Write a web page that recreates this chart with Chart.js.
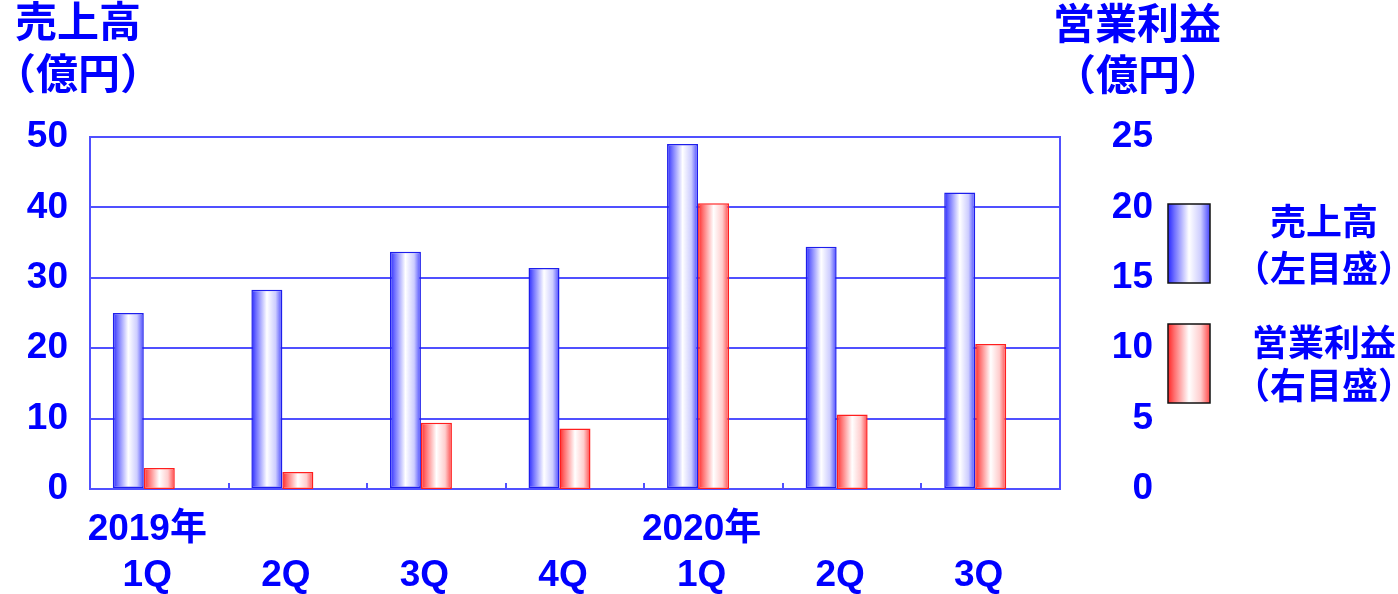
<!DOCTYPE html>
<html lang="ja">
<head>
<meta charset="utf-8">
<title>売上高・営業利益 四半期推移</title>
<script src="https://cdn.jsdelivr.net/npm/chart.js@4.4.1/dist/chart.umd.min.js"></script>
<style>
  html, body { margin: 0; padding: 0; background: #ffffff; }
  #wrap { position: relative; width: 1398px; height: 594px; }
</style>
</head>
<body>
<div id="wrap"><canvas id="chart"></canvas></div>
<script>
// Quarterly figures (億円)
const yearLabels    = ['2019年', '', '', '', '2020年', '', ''];
const quarterLabels = ['1Q', '2Q', '3Q', '4Q', '1Q', '2Q', '3Q'];
const salesValues   = [25.0, 28.3, 33.7, 31.4, 49.0, 34.4, 42.1];   // 売上高 (left axis)
const profitValues  = [1.5, 1.2, 4.7, 4.3, 20.3, 5.3, 10.3];        // 営業利益 (right axis)
const leftTicks     = [0, 10, 20, 30, 40, 50];
const rightTicks    = [0, 5, 10, 15, 20, 25];

const FONT = "'Liberation Sans', 'Noto Sans CJK JP', sans-serif";
const TEXT_BLUE = '#0000ff';
const FRAME_BLUE = 'rgb(80,80,255)';

const BLUE_STOPS = [[0, 'rgb(40,40,255)'], [0.15, 'rgb(110,110,255)'], [0.5, '#ffffff'], [0.78, 'rgb(205,205,255)'], [1, 'rgb(70,70,255)']];
const RED_STOPS  = [[0, 'rgb(255,40,40)'], [0.15, 'rgb(255,110,110)'], [0.5, '#ffffff'], [0.78, 'rgb(255,205,205)'], [1, 'rgb(255,70,70)']];

function hGradient(ctx, x0, x1, stops) {
  const g = ctx.createLinearGradient(x0, 0, x1, 0);
  stops.forEach(([p, c]) => g.addColorStop(p, c));
  return g;
}

const labels = quarterLabels.map((q, i) => [yearLabels[i], q]);

// Horizontal shading on every bar, based on the bar's own position
const barShading = {
  id: 'barShading',
  beforeDatasetsDraw(chart) {
    const ctx = chart.ctx;
    [0, 1].forEach(di => {
      const meta = chart.getDatasetMeta(di);
      const stops = di === 0 ? BLUE_STOPS : RED_STOPS;
      meta.data.forEach(el => {
        if (!el || el.width == null) return;
        el.options.backgroundColor = hGradient(ctx, el.x - el.width / 2, el.x + el.width / 2, stops);
      });
    });
  }
};

// Axis titles, category tick marks and the side legend
const decorations = {
  id: 'decorations',
  afterDraw(chart) {
    const ctx = chart.ctx;
    const area = chart.chartArea;
    ctx.save();

    // small inner tick marks at category boundaries
    ctx.strokeStyle = FRAME_BLUE;
    ctx.lineWidth = 2;
    const n = quarterLabels.length;
    const step = (area.right - area.left) / n;
    for (let i = 1; i < n; i++) {
      const x = Math.round(area.left + step * i);
      ctx.beginPath();
      ctx.moveTo(x, area.bottom);
      ctx.lineTo(x, area.bottom - 6);
      ctx.stroke();
    }

    // axis titles
    ctx.fillStyle = TEXT_BLUE;
    ctx.textAlign = 'center';
    ctx.textBaseline = 'middle';
    ctx.font = `bold 42px ${FONT}`;
    ctx.fillText('売上高', 78, 25);
    ctx.fillText('（億円）', 78, 77);
    ctx.fillText('営業利益', 1137, 27);
    ctx.fillText('（億円）', 1138, 78);

    // legend boxes
    const boxes = [
      { y: 204, stops: BLUE_STOPS, lines: ['売上高', '（左目盛）'], ty: [225, 272] },
      { y: 324, stops: RED_STOPS, lines: ['営業利益', '（右目盛）'], ty: [346, 389] }
    ];
    boxes.forEach(b => {
      const x0 = 1168, w = 42, h = 79;
      ctx.fillStyle = hGradient(ctx, x0, x0 + w, b.stops);
      ctx.fillRect(x0, b.y, w, h);
      ctx.strokeStyle = '#111111';
      ctx.lineWidth = 1.5;
      ctx.strokeRect(x0, b.y, w, h);
      ctx.fillStyle = TEXT_BLUE;
      ctx.font = `bold 36px ${FONT}`;
      ctx.fillText(b.lines[0], 1324, b.ty[0]);
      ctx.fillText(b.lines[1], 1324, b.ty[1]);
    });
    ctx.restore();
  }
};

new Chart(document.getElementById('chart'), {
  type: 'bar',
  data: {
    labels: labels,
    datasets: [
      {
        label: '売上高',
        data: salesValues,
        yAxisID: 'y',
        backgroundColor: () => '#ccccff',
        borderColor: 'rgb(30,30,235)',
        borderWidth: 1.5,
        borderSkipped: false
      },
      {
        label: '営業利益',
        data: profitValues,
        yAxisID: 'y1',
        backgroundColor: () => '#ffcccc',
        borderColor: 'rgb(255,30,30)',
        borderWidth: 1.5,
        borderSkipped: false
      },
      {
        // empty slot that keeps each pair left of the category centre
        label: '',
        data: quarterLabels.map(() => null),
        yAxisID: 'y'
      }
    ]
  },
  options: {
    responsive: true,
    maintainAspectRatio: false,
    animation: false,
    categoryPercentage: 0.671,
    barPercentage: 1.0,
    layout: { padding: { top: 137, right: 245, bottom: 0, left: 0 } },
    plugins: {
      legend: { display: false },
      tooltip: { enabled: false }
    },
    scales: {
      x: {
        offset: true,
        grid: { display: false, drawTicks: false },
        border: { display: true, color: FRAME_BLUE, width: 2 },
        ticks: {
          color: TEXT_BLUE,
          font: { family: FONT, size: 37, weight: 'bold', lineHeight: 46 / 37 },
          padding: 18,
          labelOffset: -12,
          maxRotation: 0,
          autoSkip: false
        },
        afterFit(scale) { scale.height = 105; }
      },
      y: {
        position: 'left',
        min: 0,
        max: 50,
        afterBuildTicks(scale) { scale.ticks = leftTicks.map(v => ({ value: v })); },
        grid: { color: FRAME_BLUE, lineWidth: 2, drawTicks: false },
        border: { display: true, color: FRAME_BLUE, width: 2 },
        ticks: {
          color: TEXT_BLUE,
          font: { family: FONT, size: 37, weight: 'bold' },
          padding: 22
        },
        afterFit(scale) { scale.width = 90; }
      },
      y1: {
        position: 'right',
        min: 0,
        max: 25,
        afterBuildTicks(scale) { scale.ticks = rightTicks.map(v => ({ value: v })); },
        grid: { display: false, drawTicks: false },
        border: { display: true, color: FRAME_BLUE, width: 2 },
        ticks: {
          color: TEXT_BLUE,
          font: { family: FONT, size: 37, weight: 'bold' },
          padding: 10,
          crossAlign: 'far'
        },
        afterFit(scale) { scale.width = 93; }
      }
    }
  },
  plugins: [barShading, decorations]
});
</script>
</body>
</html>
